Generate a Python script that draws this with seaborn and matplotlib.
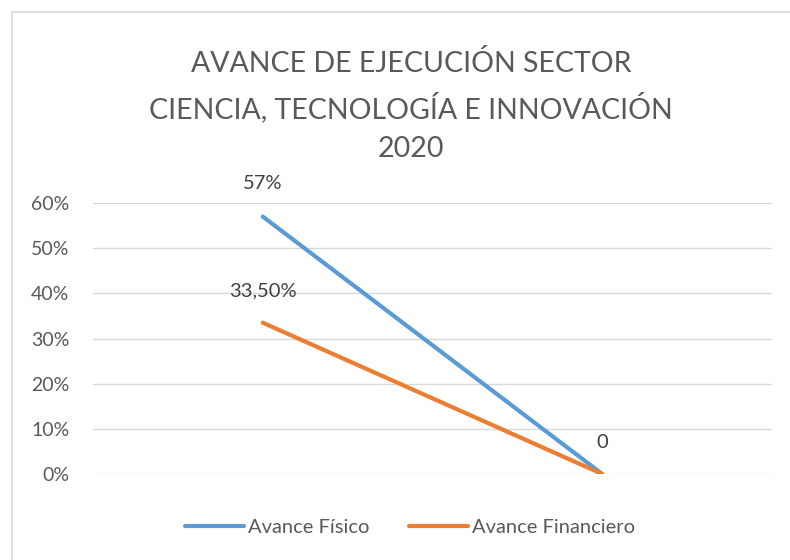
import pandas as pd
import matplotlib.pyplot as plt
import matplotlib.patches as mpatches
import seaborn as sns

# Datos del gráfico
periodos = [1, 2]
avance_fisico = [0.57, 0.0]
avance_financiero = [0.335, 0.0]
etiquetas_fisico = ["57%", ""]
etiquetas_financiero = ["33,50%", "0"]
series = ["Avance Físico", "Avance Financiero"]
titulo = "AVANCE DE EJECUCIÓN SECTOR\nCIENCIA, TECNOLOGÍA E INNOVACIÓN\n2020"

df = pd.DataFrame({
    "periodo": periodos * 2,
    "valor": avance_fisico + avance_financiero,
    "serie": [series[0]] * 2 + [series[1]] * 2,
})

sns.set_theme(style="white")
plt.rcParams["font.family"] = ["Lato", "DejaVu Sans"]

colores = {series[0]: "#5B9BD5", series[1]: "#ED7D31"}

fig = plt.figure(figsize=(7.9, 5.6), dpi=100)
ax = fig.add_axes([93 / 790, 1 - 474 / 560, (772 - 93) / 790, (474 - 203) / 560])

sns.lineplot(data=df, x="periodo", y="valor", hue="serie", palette=colores,
             linewidth=3, ax=ax, legend=False, solid_capstyle="round")

ax.set_xlim(0.5, 2.5)
ax.set_ylim(0, 0.6)
ax.set_yticks([0, 0.1, 0.2, 0.3, 0.4, 0.5, 0.6])
ax.set_yticklabels([f"{int(round(v * 100))}%" for v in ax.get_yticks()],
                   fontsize=14, color="#595959")
ax.set_xticks([])
ax.tick_params(axis="y", length=0, pad=17)
ax.set_xlabel("")
ax.set_ylabel("")
ax.grid(axis="y", color="#D9D9D9", linewidth=1)
ax.set_axisbelow(True)
for s in ax.spines.values():
    s.set_visible(False)

# Etiquetas de datos
for x, y, t in zip(periodos, avance_fisico, etiquetas_fisico):
    if t:
        ax.annotate(t, (x, y), xytext=(0, 24), textcoords="offset points",
                    ha="center", va="center", fontsize=14.5, color="#404040")
for x, y, t in zip(periodos, avance_financiero, etiquetas_financiero):
    if t:
        ax.annotate(t, (x, y), xytext=(0, 23), textcoords="offset points",
                    ha="center", va="center", fontsize=14.5, color="#404040")

fig.text(0.52, 1 - 106 / 560, titulo, ha="center", va="center",
         fontsize=20.5, color="#595959", linespacing=1.6)

handles = [plt.Line2D([], [], color=colores[s], linewidth=3, solid_capstyle="round")
           for s in series]
fig.legend(handles, series, loc="center", bbox_to_anchor=(0.519, 1 - 527 / 560),
           ncol=2, frameon=False, fontsize=14.5, handlelength=2.9,
           handletextpad=0.2, columnspacing=2.0, labelcolor="#595959")

# Borde del área del gráfico (sólo asoman los lados superior e izquierdo)
fig.patches.append(mpatches.Rectangle((12 / 790, -0.1), 1.1, 1 - 12 / 560 + 0.1,
                                      transform=fig.transFigure, fill=False,
                                      edgecolor="#D9D9D9", linewidth=1.2))

plt.savefig("out.png", dpi=100)
